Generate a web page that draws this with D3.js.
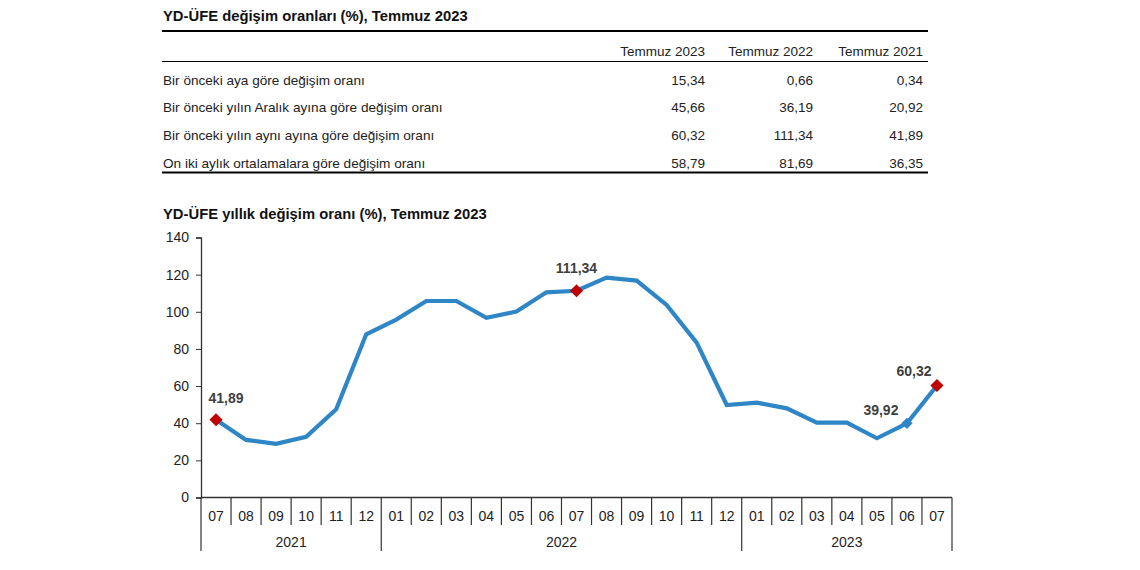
<!DOCTYPE html>
<html><head><meta charset="utf-8">
<script src="https://cdn.jsdelivr.net/npm/d3@7"></script>
<style>
body{margin:0;background:#fff;}
svg text{font-family:"Liberation Sans",Arial,sans-serif;}
</style></head>
<body><svg id="c" width="1140" height="570"></svg>
<script>
// ---- table data ----
const tableTitle = "YD-ÜFE değişim oranları (%), Temmuz 2023";
const tableColumns = ["Temmuz 2023", "Temmuz 2022", "Temmuz 2021"];
const tableRows = [
  "Bir önceki aya göre değişim oranı",
  "Bir önceki yılın Aralık ayına göre değişim oranı",
  "Bir önceki yılın aynı ayına göre değişim oranı",
  "On iki aylık ortalamalara göre değişim oranı"
];
const col2023 = ["15,34", "45,66", "60,32", "58,79"];
const col2022 = ["0,66", "36,19", "111,34", "81,69"];
const col2021 = ["0,34", "20,92", "41,89", "36,35"];

// ---- chart data ----
const chartTitle = "YD-ÜFE yıllık değişim oranı (%), Temmuz 2023";
const months = ["07","08","09","10","11","12","01","02","03","04","05","06","07","08","09","10","11","12","01","02","03","04","05","06","07"];
const monthYears = [2021,2021,2021,2021,2021,2021,2022,2022,2022,2022,2022,2022,2022,2022,2022,2022,2022,2022,2023,2023,2023,2023,2023,2023,2023];
const yearLabels = ["2021","2022","2023"];
const annualRate = [41.89,31.0,28.9,32.7,47.5,87.9,95.8,105.8,105.8,96.8,100.1,110.5,111.34,118.4,116.8,103.7,83.4,49.8,51.1,48.0,40.3,40.3,31.9,39.92,60.32];
const yTicks = [0,20,40,60,80,100,120,140];
const highlightRed = [0, 12, 24];
const highlightBlue = [23];
const labelled = [0, 12, 23, 24];

const svg = d3.select("#c");
const txt = "#222";

// ---- table ----
svg.append("text").attr("x",163).attr("y",21).attr("font-size","14.8px").attr("font-weight","bold").attr("fill","#111").text(tableTitle);
const tL = 162, tR = 928;
svg.append("line").attr("x1",tL).attr("x2",tR).attr("y1",31).attr("y2",31).attr("stroke","#000").attr("stroke-width",2);
svg.append("line").attr("x1",tL).attr("x2",tR).attr("y1",61.5).attr("y2",61.5).attr("stroke","#000").attr("stroke-width",1);
svg.append("line").attr("x1",tL).attr("x2",tR).attr("y1",172.5).attr("y2",172.5).attr("stroke","#000").attr("stroke-width",2);
const colRight = [705, 813, 923];
const rowY = d3.scalePoint().domain(d3.range(tableRows.length)).range([80,163]);
const cols = [col2023, col2022, col2021];
svg.selectAll(".th").data(tableColumns).join("text")
  .attr("x",(d,i)=>colRight[i]).attr("y",51.5).attr("dy","0.35em").attr("text-anchor","end")
  .attr("font-size","13.5px").attr("fill",txt).text(d=>d);
svg.selectAll(".rl").data(tableRows).join("text")
  .attr("x",163).attr("y",(d,i)=>rowY(i)).attr("dy","0.35em")
  .attr("font-size","13.6px").attr("fill",txt).text(d=>d);
cols.forEach((c,ci)=>{
  svg.selectAll(".cv"+ci).data(c).join("text")
    .attr("x",colRight[ci]).attr("y",(d,i)=>rowY(i)).attr("dy","0.35em").attr("text-anchor","end")
    .attr("font-size","13.5px").attr("fill",txt).text(d=>d);
});

// ---- chart ----
svg.append("text").attr("x",163).attr("y",219).attr("font-size","14.8px").attr("font-weight","bold").attr("fill","#111").text(chartTitle);

const x = d3.scaleBand().domain(d3.range(months.length)).range([201,952]).paddingInner(0).paddingOuter(0);
const y = d3.scaleLinear().domain([0,140]).range([497.5,237.5]);
const cx = i => x(i) + x.bandwidth()/2;

const yAxis = d3.axisLeft(y).tickValues(yTicks).tickSize(5).tickPadding(7).tickFormat(d3.format("d"));
const gy = svg.append("g").attr("transform","translate(201,0)").call(yAxis);
gy.select(".domain").attr("stroke","#333").attr("stroke-width",1.3);
gy.selectAll(".tick line").attr("stroke","#333");
gy.selectAll("text").attr("font-size","14px").attr("fill",txt).attr("font-family","Liberation Sans, Arial, sans-serif");

// x axis baseline
const y0 = y(0);
svg.append("line").attr("x1",201).attr("x2",952).attr("y1",y0).attr("y2",y0).attr("stroke","#333").attr("stroke-width",1.3);
// month separators
const bounds = d3.range(months.length+1).map(i => i < months.length ? x(i) : x(months.length-1)+x.bandwidth());
bounds.forEach((b,i)=>{
  const isYear = i===0 || i===months.length || monthYears[i]!==monthYears[i-1];
  svg.append("line").attr("x1",b).attr("x2",b).attr("y1",y0).attr("y2",isYear?551:525)
    .attr("stroke","#333").attr("stroke-width",1.2);
});
svg.selectAll(".ml").data(months).join("text")
  .attr("x",(d,i)=>cx(i)).attr("y",516).attr("dy","0.35em").attr("text-anchor","middle")
  .attr("font-size","14px").attr("fill",txt).text(d=>d);
yearLabels.forEach(yr=>{
  const idx = monthYears.map((v,i)=>[v,i]).filter(p=>String(p[0])===yr).map(p=>p[1]);
  const a = x(idx[0]), b = x(idx[idx.length-1]) + x.bandwidth();
  svg.append("text").attr("x",(a+b)/2).attr("y",542).attr("dy","0.35em").attr("text-anchor","middle")
    .attr("font-size","14px").attr("fill",txt).text(yr);
});

// line
const line = d3.line().x((d,i)=>cx(i)).y(d=>y(d));
svg.append("path").datum(annualRate).attr("d",line).attr("fill","none")
  .attr("stroke","#2F86C6").attr("stroke-width",4.2).attr("stroke-linejoin","miter");

function marker(i, color, size){
  svg.append("path").attr("d",d3.symbol().type(d3.symbolSquare).size(size)())
    .attr("transform",`translate(${cx(i)},${y(annualRate[i])}) rotate(45)`).attr("fill",color);
}
highlightRed.forEach(i=>marker(i,"#C00000",86));
highlightBlue.forEach(i=>marker(i,"#2F86C6",64));

const fmt = v => v.toFixed(2).replace(".",",");
const labelOffset = {0:[10,-22], 12:[0,-23], 23:[-26,-13], 24:[-23,-14]};
labelled.forEach(i=>{
  svg.append("text").attr("x",cx(i)+labelOffset[i][0]).attr("y",y(annualRate[i])+labelOffset[i][1])
    .attr("dy","0.35em").attr("text-anchor","middle").attr("font-size","14px").attr("font-weight","bold")
    .attr("fill","#404040").text(fmt(annualRate[i]));
});
</script></body></html>
